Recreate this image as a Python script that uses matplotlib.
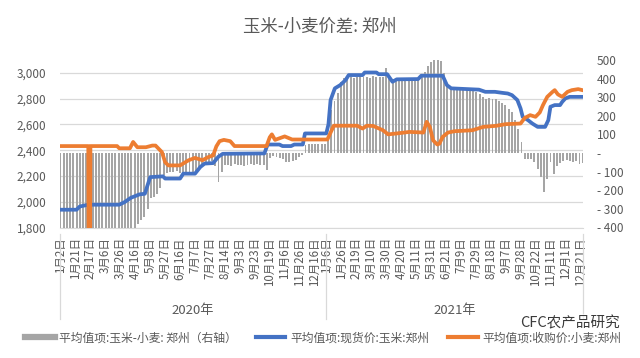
import matplotlib
matplotlib.use('Agg')
import matplotlib.pyplot as plt
import matplotlib.transforms as mtransforms
from matplotlib.lines import Line2D
import numpy as np

plt.rcParams['font.family'] = ['Noto Sans CJK SC', 'DejaVu Sans']

# trading-day axis: 2020 has 249 points, 2021 has 241
n2020 = 249
n2021 = 241
labels2020 = ['1月2日', '1月21日', '2月17日', '3月6日', '3月26日', '4月16日', '5月8日', '5月27日',
              '6月16日', '7月7日', '7月27日', '8月14日', '9月3日', '9月23日', '10月19日', '11月6日',
              '11月26日', '12月16日']
labels2021 = ['1月6日', '1月26日', '2月19日', '3月10日', '3月30日', '4月20日', '5月11日', '5月31日',
              '6月21日', '7月9日', '7月29日', '8月18日', '9月7日', '9月28日', '10月22日', '11月11日',
              '12月1日', '12月21日']

# spot corn price, Zhengzhou (left axis)
blue_idx = [0, 15, 18, 26, 55, 60, 66, 74, 79, 81, 84, 96, 98, 112, 115, 126, 131, 135, 143, 148,
            152, 191, 194, 205, 208, 216, 219, 227, 229, 249, 251, 253, 257, 262, 267, 270, 283, 285,
            296, 298, 306, 311, 315, 335, 338, 358, 362, 366, 392, 398, 407, 414, 419, 423, 428, 431,
            433, 438, 442, 447, 454, 457, 459, 463, 468, 470, 473, 477, 489]
blue_val = [1938, 1938, 1963, 1977, 1977, 1997, 2031, 2057, 2062, 2114, 2191, 2197, 2180, 2180, 2218,
            2218, 2270, 2296, 2300, 2350, 2372, 2375, 2444, 2444, 2432, 2432, 2444, 2444, 2530, 2530,
            2600, 2789, 2880, 2905, 2944, 2983, 2983, 3003, 3003, 2990, 2990, 2931, 2950, 2952, 2978,
            2978, 2905, 2880, 2870, 2853, 2853, 2845, 2840, 2827, 2789, 2724, 2659, 2633, 2607, 2581,
            2581, 2633, 2737, 2750, 2750, 2775, 2802, 2814, 2814]

# wheat purchase price, Zhengzhou (left axis)
orange_idx = [0, 26, 27, 28, 53, 55, 65, 68, 72, 80, 86, 89, 95, 98, 101, 112, 120, 126, 133, 138,
              143, 146, 149, 153, 159, 163, 193, 196, 198, 201, 210, 217, 250, 256, 278, 283, 287, 293,
              302, 307, 315, 327, 340, 343, 346, 349, 353, 355, 358, 363, 369, 386, 396, 408, 417, 431,
              435, 440, 445, 449, 452, 456, 461, 463, 466, 470, 475, 479, 485, 489]
orange_val = [2432, 2432, 0, 2432, 2432, 2415, 2415, 2464, 2423, 2423, 2436, 2436, 2385, 2307, 2282,
              2282, 2322, 2340, 2322, 2345, 2360, 2430, 2470, 2480, 2470, 2432, 2432, 2500, 2523, 2480,
              2507, 2483, 2483, 2590, 2590, 2568, 2590, 2588, 2555, 2523, 2530, 2542, 2537, 2620, 2581,
              2477, 2444, 2451, 2503, 2537, 2547, 2555, 2581, 2589, 2602, 2607, 2651, 2672, 2659, 2693,
              2750, 2814, 2853, 2866, 2833, 2814, 2853, 2866, 2874, 2866]

# corn - wheat spread (right axis), read about every 3rd trading day
spread = [-494, -494, -494, -494, -494, -494, -469, -469, -469,
          -455, -455, -455, -455, -455, -455, -455, -455, -455, -440, -440, -440, -440,
          -425, -415, -380, -360, -344, -300, -240, -235, -218, -190, -120, -105, -100, -100,
          -98, -105, -110, -112, -110, -105, -100, -80, -60, -55, -50, -45, -70, -155, -100,
          -65, -62, -68, -60, -66, -64, -70, -62, -60, -66, -58, -64, -62,
          -93, -25, -15, -20, -25, -30, -48, -50, -45, -35, -20, -10,
          45, 46, 47, 46, 48, 47, 48,
          80, 230, 280, 320, 380, 405,
          408, 410, 405, 410, 412, 408, 410, 405,
          412, 410, 408, 410,
          455, 410, 400, 398, 405, 405,
          401, 400, 402, 400, 405, 410,
          437, 470, 491, 500, 500, 495, 428, 374,
          347, 350, 345, 347, 348, 345, 347, 340,
          330, 315, 302,
          293, 295, 293, 290,
          280, 270, 257, 235, 220, 175, 130, 60,
          -30, -30, -32, -50, -85, -130, -210, -140, -50, -110, -70, -55, -40, -38, -40, -50,
          -45, -60, -55]
bar_step = 3.02

TXT = '#595959'
GRID = '#D9D9D9'
BLUE = '#4472C4'
ORANGE = '#ED7D31'
GRAY = '#A5A5A5'

fig = plt.figure(figsize=(6.4, 3.58), dpi=100)
ax = fig.add_axes([60 / 640, (358 - 227.5) / 358, 523 / 640, 167.5 / 358])
axb = ax.twinx()
axl = ax.twinx()

ntot = n2020 + n2021
ax.set_xlim(-0.5, ntot - 0.5)
ax.set_ylim(1800, 3100)
axl.set_ylim(1800, 3100)
axb.set_ylim(-400, 500)

# gridlines on the base axis
ax.set_yticks(np.arange(1800, 3001, 200))
ax.yaxis.grid(True, color=GRID, lw=0.9)
ax.set_axisbelow(True)
ax.set_yticklabels(['{:,}'.format(v) for v in range(1800, 3001, 200)])
ax.tick_params(axis='y', length=0, labelsize=8.5, labelcolor=TXT, pad=10)

# spread bars
bar_x = np.arange(len(spread)) * bar_step
axb.bar(bar_x, spread, width=1.8, color=GRAY, linewidth=0)
rt = np.arange(-400, 501, 100)
axb.set_yticks(rt)
axb.set_yticklabels([('-' if v == 0 else ('- %d' % -v if v < 0 else '%d' % v)) for v in rt])
axb.tick_params(axis='y', length=0, labelsize=8.5, labelcolor=TXT, pad=10)

# price lines
axl.plot(blue_idx, blue_val, color=BLUE, lw=2.7, solid_joinstyle='round')
axl.plot(orange_idx, orange_val, color=ORANGE, lw=2.7, solid_joinstyle='round')
axl.set_yticks([])

for a in (ax, axb, axl):
    for s in a.spines.values():
        s.set_visible(False)
ax.spines['bottom'].set_visible(True)
ax.spines['bottom'].set_color(GRID)

# category labels
pos = list(range(0, n2020, 14)) + [n2020 + p for p in range(0, n2021, 14)]
ax.set_xticks(pos)
ax.set_xticklabels(labels2020 + labels2021, rotation=90)
ax.tick_params(axis='x', length=0, labelsize=8.3, labelcolor=TXT, pad=7)

# year groups
trans = mtransforms.blended_transform_factory(ax.transData, ax.transAxes)
for xv in (-0.5, n2020 - 0.5, ntot - 0.5):
    ax.plot([xv, xv], [-0.04, -0.545], transform=trans, color=GRID, lw=0.9, clip_on=False)
ax.text((n2020 - 1) / 2, -0.495, '2020年', transform=trans, ha='center', va='center',
        fontsize=9.5, color=TXT)
ax.text(n2020 + (n2021 - 1) / 2, -0.495, '2021年', transform=trans, ha='center', va='center',
        fontsize=9.5, color=TXT)

fig.text(0.5, 0.925, '玉米-小麦价差: 郑州', ha='center', va='center', fontsize=12.5, color=TXT,
         fontweight='light')

handles = [Line2D([], [], color=GRAY, lw=4.5),
           Line2D([], [], color=BLUE, lw=3),
           Line2D([], [], color=ORANGE, lw=3)]
names = ['平均值项:玉米-小麦: 郑州（右轴）', '平均值项:现货价:玉米:郑州', '平均值项:收购价:小麦:郑州']
fig.legend(handles, names, loc='center', bbox_to_anchor=(0.505, 0.056), ncol=3, frameon=False,
           fontsize=8.5, handlelength=2.5, handletextpad=0.4, columnspacing=1.6, labelcolor=TXT)

# watermark
fig.text(0.89, 0.098, 'CFC农产品研究', ha='center', va='center', fontsize=10.5, color='#3a3a3a',
         bbox=dict(facecolor='white', alpha=0.55, edgecolor='none', pad=1))

fig.savefig('out.png', dpi=100)
